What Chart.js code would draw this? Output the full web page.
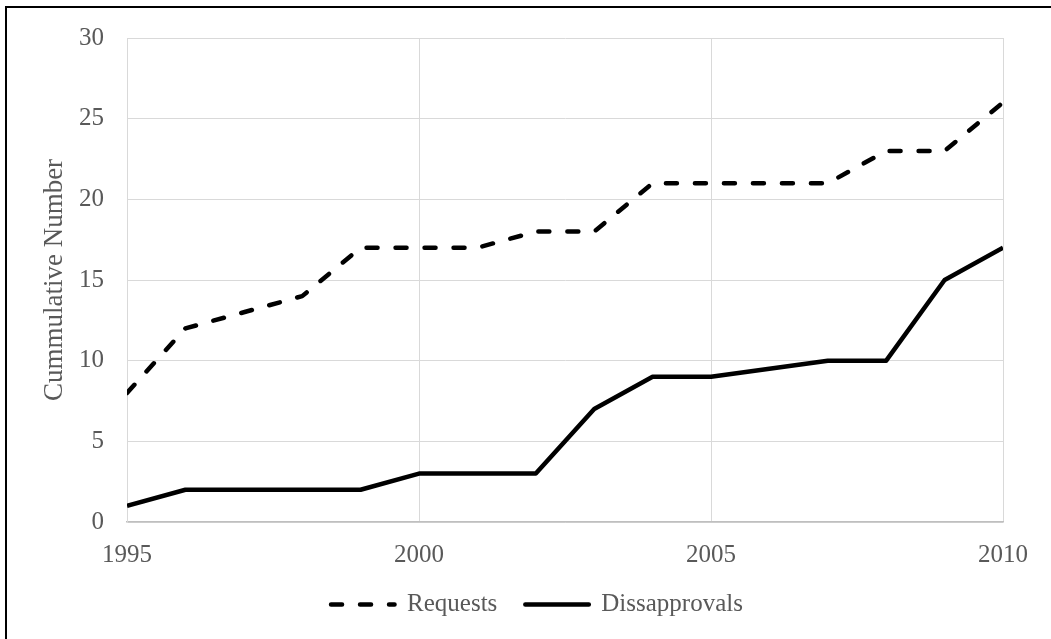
<!DOCTYPE html>
<html>
<head>
<meta charset="utf-8">
<script src="https://cdn.jsdelivr.net/npm/chart.js@4/dist/chart.umd.min.js"></script>
<style>
  html, body { margin: 0; padding: 0; background: #fff; }
  #wrap { position: relative; width: 1051px; height: 639px; }
  #frame { position: absolute; left: 5px; top: 6px; right: 0; bottom: 0;
           border-left: 2px solid #000; border-top: 2px solid #000; pointer-events: none; }
</style>
</head>
<body>
<div id="wrap">
  <canvas id="myChart" width="1051" height="639"></canvas>
  <div id="frame"></div>
</div>
<script>
var years = [1995, 1996, 1997, 1998, 1999, 2000, 2001, 2002, 2003, 2004, 2005, 2006, 2007, 2008, 2009, 2010]
var requests = [8, 12, 13, 14, 17, 17, 17, 18, 18, 21, 21, 21, 21, 23, 23, 26]
var disapprovals = [1, 2, 2, 2, 2, 3, 3, 3, 7, 9, 9, 9.5, 10, 10, 15, 17]
var seriesNames = ['Requests', 'Dissapprovals']
var yTitle = 'Cummulative Number'

var textColor = '#595959'
var fontFamily = "'Liberation Serif', 'Times New Roman', serif"

function toPoints(vals) {
    return years.map((y, i) => ({x: y, y: vals[i]}))
}

new Chart('myChart', {
    type: 'line',
    data: {
        datasets: [{
            label: seriesNames[0],
            data: toPoints(requests),
            borderColor: '#000',
            backgroundColor: '#000',
            borderWidth: 4.5,
            borderDash: [11, 18],
            borderCapStyle: 'round',
            borderJoinStyle: 'round',
            pointRadius: 0,
            tension: 0,
            fill: false
        }, {
            label: seriesNames[1],
            data: toPoints(disapprovals),
            borderColor: '#000',
            backgroundColor: '#000',
            borderWidth: 4.5,
            borderJoinStyle: 'round',
            pointRadius: 0,
            tension: 0,
            fill: false
        }]
    },
    options: {
        responsive: false,
        animation: false,
        layout: {padding: {left: 71, right: 48, top: 37, bottom: 12}},
        plugins: {
            tooltip: {enabled: false},
            legend: {
                position: 'bottom',
                labels: {
                    // zero-height box = a line sample; 63.5 keeps the dashes in step on the way back
                    boxWidth: 63.5,
                    boxHeight: 0,
                    padding: 28,
                    color: textColor,
                    font: {family: fontFamily, size: 25}
                }
            }
        },
        scales: {
            x: {
                type: 'linear',
                min: 1995,
                max: 2010,
                afterFit: function (scale) { scale.height = 42 },
                ticks: {
                    stepSize: 5,
                    padding: 18,
                    maxRotation: 0,
                    color: textColor,
                    font: {family: fontFamily, size: 25},
                    callback: v => String(v)
                },
                grid: {color: '#d9d9d9', lineWidth: 1, drawTicks: false},
                border: {color: '#bfbfbf', width: 1.5}
            },
            y: {
                min: 0,
                max: 30,
                afterFit: function (scale) { scale.width = 56 },
                ticks: {
                    stepSize: 5,
                    padding: 23,
                    color: textColor,
                    font: {family: fontFamily, size: 25}
                },
                grid: {color: '#d9d9d9', lineWidth: 1, drawTicks: false},
                border: {color: '#d9d9d9', width: 1},
                title: {
                    display: true,
                    text: yTitle,
                    color: textColor,
                    font: {family: fontFamily, size: 27, weight: 'normal'},
                    padding: {top: -32, bottom: 0}
                }
            }
        }
    }
})
</script>
</body>
</html>
